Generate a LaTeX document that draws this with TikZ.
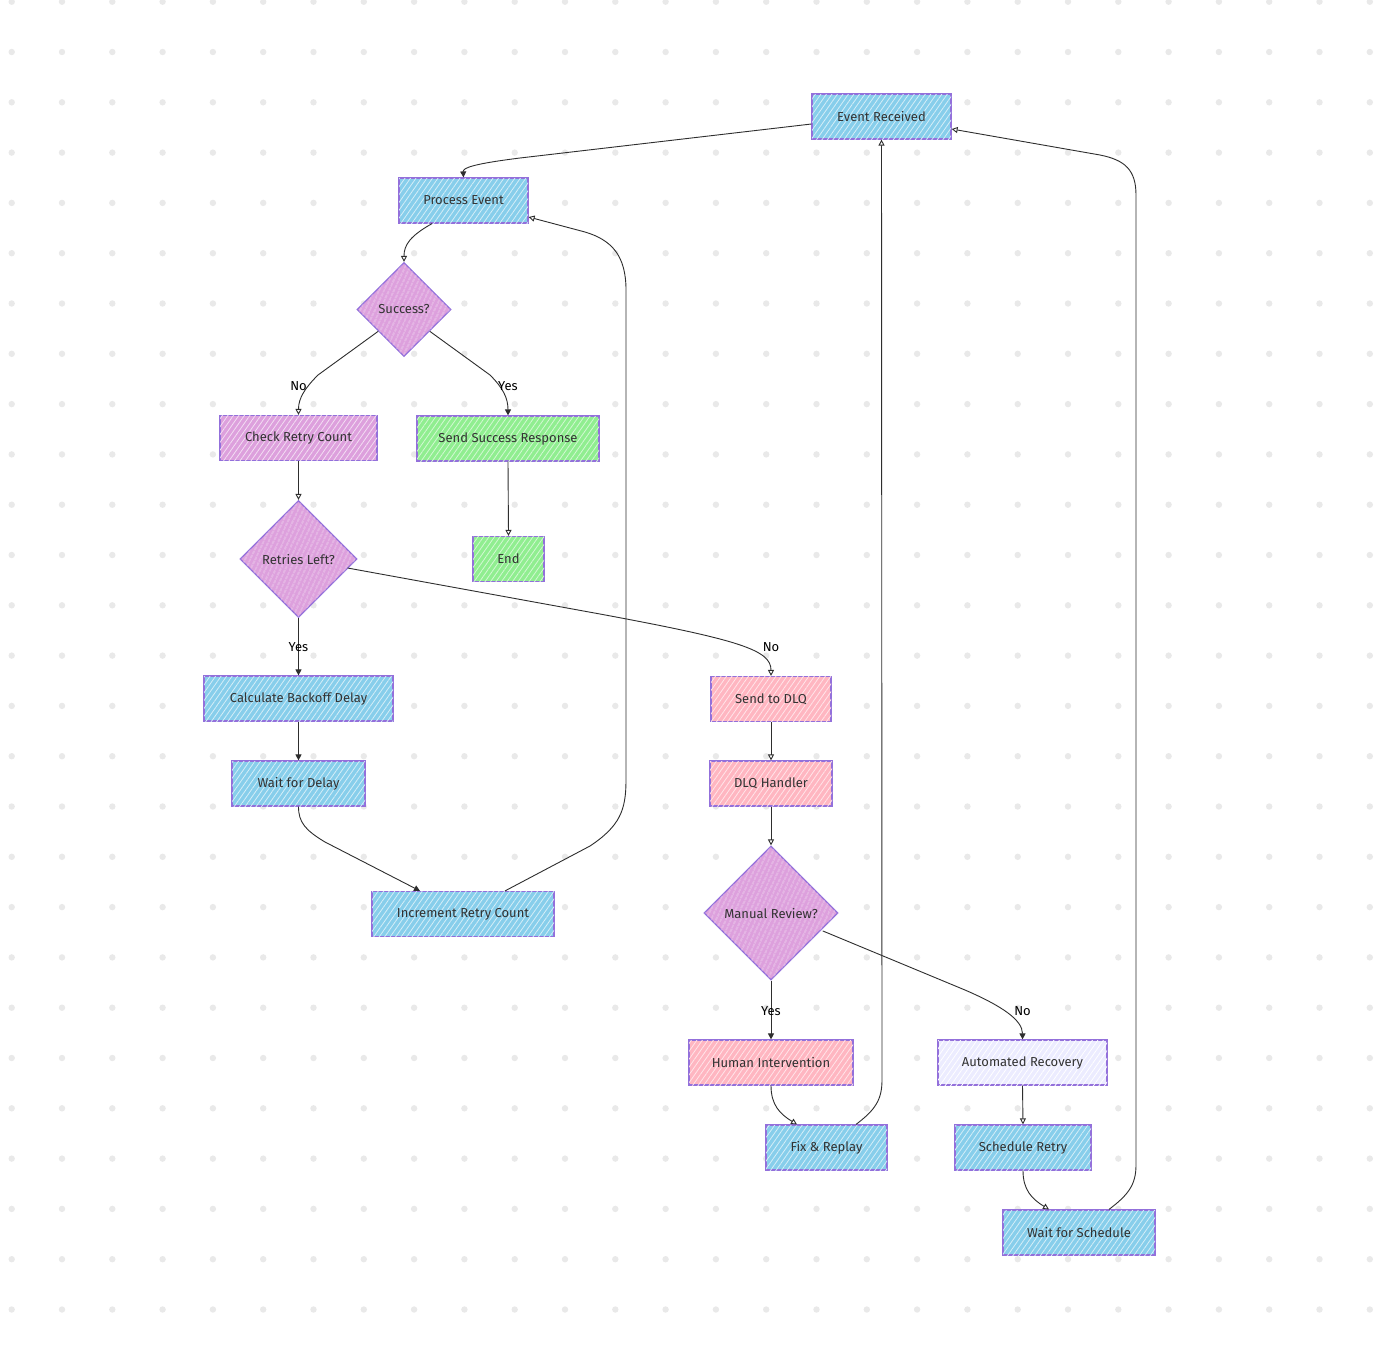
\documentclass[tikz,border=0pt]{standalone}
\usepackage{fontspec}
\setmainfont{Fira Sans}
\usetikzlibrary{arrows.meta,shapes.geometric,patterns.meta,calc}
\definecolor{cblue}{HTML}{87CEEB}
\definecolor{cplum}{HTML}{DDA0DD}
\definecolor{cgreen}{HTML}{90EE90}
\definecolor{cpink}{HTML}{FFB6C1}
\definecolor{clav}{HTML}{ECECFF}
\definecolor{cborder}{HTML}{9370DB}
\definecolor{cdot}{HTML}{E9E9E9}
\definecolor{ctext}{HTML}{333333}
\begin{document}
\begin{tikzpicture}[x=1pt,y=-1pt,
  base/.style={draw=cborder, line width=1.2pt, inner sep=0pt, font=\fontsize{13}{15}\selectfont, text=ctext},
  rbox/.style={base, rectangle, minimum height=45pt},
  dbox/.style={base, diamond, aspect=1},
  hatch/.style={postaction={pattern={Lines[angle=55,distance=4.5pt,line width=0.8pt]}, pattern color=#1}},
  dhatch/.style={postaction={pattern={Lines[angle=65,distance=4pt,line width=0.8pt]}, pattern color=#1}},
  fblue/.style={fill=cblue, hatch=cblue!35!white},
  fplum/.style={fill=cplum, hatch=cplum!35!white},
  dplum/.style={fill=cplum, dhatch=cplum!35!white},
  fgreen/.style={fill=cgreen, hatch=cgreen!40!white},
  fpink/.style={fill=cpink, hatch=cpink!35!white},
  flav/.style={fill=clav, hatch=white},
  conn/.style={draw=ctext!90!black, line width=0.9pt},
  tipopen/.style={-{Triangle[open,length=6pt,width=6pt]}},
  tipfull/.style={-{Triangle[length=6pt,width=6pt]}},
  elabel/.style={font=\fontsize{13}{15}\selectfont, text=black, inner sep=1pt}
]
\useasboundingbox (0,0) rectangle (1400,1345);
\fill[white] (0,0) rectangle (1400,1345);
% dot grid
\foreach \i in {0,...,27} {
  \foreach \j in {0,...,26} {
    \fill[cdot] (11.7+50.3*\i, 1.7+50.3*\j) circle (3.2pt);
  }
}
% nodes
\node[rbox, fblue, minimum width=139pt] (ev) at (881.5,116.5) {Event Received};
\node[rbox, fblue, minimum width=129pt] (pe) at (463.5,200.5) {Process Event};
\node[dbox, dplum, minimum width=94pt, minimum height=94pt] (su) at (404,309.5) {Success?};
\node[rbox, fplum, minimum width=157pt] (cr) at (298.5,438) {Check Retry Count};
\node[rbox, fgreen, minimum width=182pt] (ss) at (508,438.5) {Send Success Response};
\node[dbox, dplum, minimum width=117pt, minimum height=117pt] (rl) at (298.5,559) {Retries Left?};
\node[rbox, fgreen, minimum width=71pt] (en) at (508.5,559) {End};
\node[rbox, fblue, minimum width=189pt] (cb) at (298.5,698.5) {Calculate Backoff Delay};
\node[rbox, fblue, minimum width=133pt] (wd) at (298.5,783.5) {Wait for Delay};
\node[rbox, fblue, minimum width=182pt] (ir) at (463,914) {Increment Retry Count};
\node[rbox, fpink, minimum width=120pt] (sd) at (771,699) {Send to DLQ};
\node[rbox, fpink, minimum width=122pt] (dh) at (771,783.5) {DLQ Handler};
\node[dbox, dplum, minimum width=134pt, minimum height=134pt] (mr) at (771,913) {Manual Review?};
\node[rbox, fpink, minimum width=164pt] (hi) at (771,1062.5) {Human Intervention};
\node[rbox, flav, minimum width=169pt] (ar) at (1022.5,1062.5) {Automated Recovery};
\node[rbox, fblue, minimum width=121pt] (fr) at (826.5,1147.5) {Fix \& Replay};
\node[rbox, fblue, minimum width=136pt] (sr) at (1023,1147.5) {Schedule Retry};
\node[rbox, fblue, minimum width=152pt] (ws) at (1079,1232.5) {Wait for Schedule};
% connectors
\draw[conn, tipfull] ($(ev.west)+(0,7.5)$) -- (520,158) .. controls (472,164) and (463,168) .. (pe.north);
\draw[conn, tipopen] ($(pe.south)+(-31.5,0)$) .. controls (410,236) and (404,245) .. (su.north);
\draw[conn, tipopen] ($(su.west)!0.5!(su.south)+(-2,-2)$) -- (318,375) .. controls (305,388) and (298.5,398) .. (cr.north);
\draw[conn, tipfull] ($(su.east)!0.5!(su.south)+(2,-2)$) -- (490,375) .. controls (503,388) and (508,398) .. (ss.north);
\node[elabel] (lno1) at (298.5,386) {No};
\node[elabel] (lyes1) at (508,386) {Yes};
\draw[conn, tipopen] (cr.south) -- (rl.north);
\draw[conn, tipopen] (ss.south) -- (en.north);
\draw[conn, tipfull] (rl.south) -- (cb.north);
\node[elabel] (lyes2) at (298.5,647) {Yes};
\draw[conn, tipopen] ($(rl.east)+(-10,9)$) -- (600,614) .. controls (740,640) and (771,650) .. (sd.north);
\node[elabel] (lno2) at (771,647) {No};
\draw[conn, tipfull] (cb.south) -- (wd.north);
\draw[conn, tipfull] (wd.south) .. controls (298.5,822) and (305,830) .. (325,842) -- ($(ir.north)+(-43,0)$);
\draw[conn, tipopen] ($(ir.north)+(42,0)$) -- (590,846) .. controls (620,826) and (626,810) .. (626,780) -- (626,290) .. controls (626,256) and (612,240) .. (585,232) -- ($(pe.east)+(0,16.5)$);
\draw[conn, tipopen] (sd.south) -- (dh.north);
\draw[conn, tipopen] (dh.south) -- (mr.north);
\draw[conn, tipfull] (mr.south) -- (hi.north);
\node[elabel] (lyes3) at (771,1011) {Yes};
\draw[conn, tipfull] ($(mr.east)!0.25!(mr.south)+(1,1)$) -- (965,990) .. controls (1002,1006) and (1022.5,1020) .. (ar.north);
\node[elabel] (lno3) at (1022.5,1011) {No};
\draw[conn, tipopen] (hi.south) .. controls (771,1105) and (780,1114) .. ($(fr.north)+(-29.5,0)$);
\draw[conn, tipopen] ($(fr.north)+(29.5,0)$) .. controls (875,1110) and (882,1100) .. (882,1080) -- (ev.south);
\draw[conn, tipopen] (ar.south) -- (sr.north);
\draw[conn, tipopen] (sr.south) .. controls (1023,1190) and (1032,1199) .. ($(ws.north)+(-30,0)$);
\draw[conn, tipopen] ($(ws.north)+(30,0)$) .. controls (1128,1195) and (1136,1185) .. (1136,1165) -- (1136,195) .. controls (1136,170) and (1125,160) .. (1100,155) -- ($(ev.east)+(0,12.5)$);
\end{tikzpicture}
\end{document}
